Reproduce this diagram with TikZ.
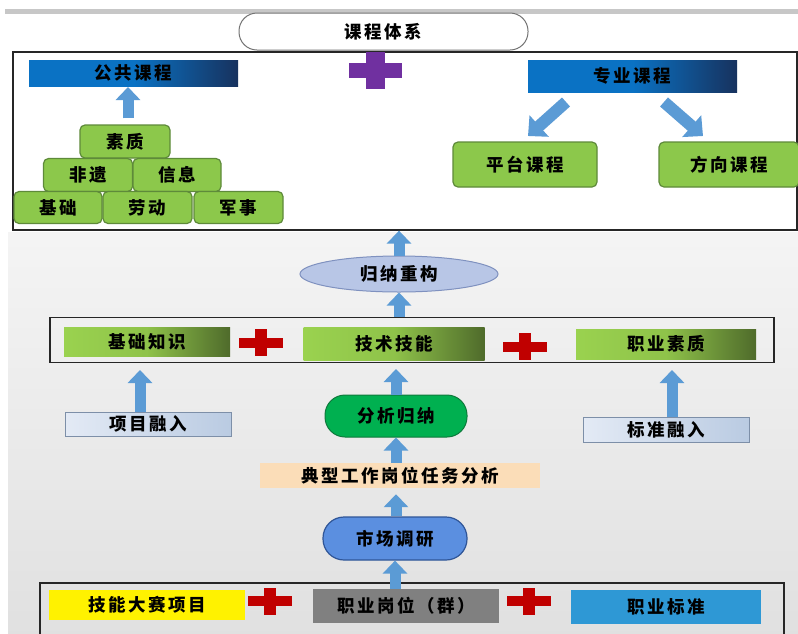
\documentclass[tikz,border=0pt]{standalone}
\usepackage{fontspec}
\setmainfont{Noto Sans CJK SC}[LetterSpace=14]
\usetikzlibrary{arrows.meta,shapes.geometric,calc}
\definecolor{arrowblue}{HTML}{5B9BD5}
\definecolor{greenfill}{HTML}{8CC84B}
\definecolor{greenedge}{HTML}{5E8A3A}
\definecolor{blueA}{HTML}{0A72C4}
\definecolor{navy}{HTML}{17325E}
\definecolor{lgreen}{HTML}{9AD24F}
\definecolor{dgreen}{HTML}{4F6B2B}
\definecolor{lavender}{HTML}{B8C6E6}
\definecolor{lavedge}{HTML}{7F91BF}
\definecolor{kgreen}{HTML}{00B050}
\definecolor{kgreenedge}{HTML}{0E7A3C}
\definecolor{mblue}{HTML}{5B8FE0}
\definecolor{mbluedge}{HTML}{2F5597}
\definecolor{peach}{HTML}{FBDDB8}
\definecolor{stdblue}{HTML}{2E98D5}
\definecolor{plusred}{HTML}{C00000}
\definecolor{pluspurple}{HTML}{7030A0}
\definecolor{paleblueL}{HTML}{E3EAF5}
\definecolor{paleblueR}{HTML}{BACBE2}
\definecolor{paleedge}{HTML}{7D8FA8}
\tikzset{
  lbl/.style={font=\fontsize{17.5}{19}\selectfont\bfseries, text=black, inner sep=0pt},
  brick/.style={lbl, draw=greenedge, fill=greenfill, line width=1.2pt, rounded corners=5pt},
  headbar/.style={lbl, left color=blueA, right color=navy, middle color=blueA},
  skillbar/.style={lbl, left color=lgreen, right color=dgreen, middle color=lgreen!85!dgreen},
  pale/.style={lbl, draw=paleedge, line width=1pt, left color=paleblueL, right color=paleblueR},
  uparrow/.style={draw=arrowblue, line width=11pt, -{Triangle[width=24pt,length=13pt]}},
  frame/.style={draw=black!85, line width=1.3pt},
  plussign/.pic={
    \fill[#1] (-22,-5) rectangle (22,5);
    \fill[#1] (-6,-13.5) rectangle (6,13.5);
  },
  bigplus/.pic={
    \fill[#1] (-26.5,-7.5) rectangle (26.5,7.5);
    \fill[#1] (-9.5,-18.5) rectangle (9.5,18.5);
  }
}
\begin{document}
\begin{tikzpicture}[x=1pt,y=-1pt]
\useasboundingbox (0,0) rectangle (798,633);
% background
\fill[white] (0,0) rectangle (798,633);
\shade[top color=white, bottom color=black!12] (8,14) rectangle (798,633);
\fill[black!22] (5,9) rectangle (798,14);
\fill[white] (8,14) rectangle (798,232);

% title
\node[lbl, draw=black!55, fill=white, line width=1pt, rounded corners=18pt, minimum width=289pt, minimum height=37pt] (title) at (383.5,31.5) {课程体系};

% top frame
\node[frame, minimum width=784pt, minimum height=178pt, inner sep=0pt] (topbox) at (405,141) {};
\node[headbar, minimum width=209pt, minimum height=26pt] (pub) at (133.5,73) {公共课程};
\node[headbar, minimum width=209pt, minimum height=32pt] (pro) at (632.5,76) {专业课程};
\pic at (375.5,70) {bigplus=pluspurple};

% pyramid
\node[brick, minimum width=90pt, minimum height=33pt] (suzhi) at (125,141.5) {素质};
\node[brick, minimum width=89pt, minimum height=33pt] (feiyi) at (88,175) {非遗};
\node[brick, minimum width=88pt, minimum height=33pt] (xinxi) at (177,175) {信息};
\node[brick, minimum width=88pt, minimum height=32pt] (jichu) at (58,207.5) {基础};
\node[brick, minimum width=89pt, minimum height=32pt] (laodong) at (147.5,207.5) {劳动};
\node[brick, minimum width=89pt, minimum height=32pt] (junshi) at (238.5,207.5) {军事};
\coordinate (pubArr) at (128,87);
\draw[uparrow] ($(suzhi.north -| pubArr)+(0,-6)$) -- (pubArr);

\node[brick, minimum width=144pt, minimum height=45pt] (pingtai) at (525,164.5) {平台课程};
\node[brick, minimum width=140pt, minimum height=45pt] (fangxiang) at (729,164.5) {方向课程};
\coordinate (dl1) at (566,102);
\coordinate (dl2) at (528,136);
\coordinate (dr1) at (664,102);
\coordinate (dr2) at (703,136);
\draw[uparrow, line width=12pt, -{Triangle[width=28pt,length=15pt]}] (dl1) -- (dl2);
\draw[uparrow, line width=12pt, -{Triangle[width=28pt,length=15pt]}] (dr1) -- (dr2);

% induction ellipse
\node[ellipse, lbl, draw=lavedge, fill=lavender, line width=1pt, minimum width=198pt, minimum height=36pt, inner sep=0pt] (guina) at (399,274) {归纳重构};
\draw[uparrow] (guina.north) -- (topbox.south -| guina);

% middle frame
\node[frame, minimum width=724pt, minimum height=45pt, inner sep=0pt] (midbox) at (412,340) {};
\node[skillbar, minimum width=166pt, minimum height=29pt] (zhishi) at (147,341.5) {基础知识};
\node[skillbar, minimum width=181pt, minimum height=33pt] (jineng) at (394,343.5) {技术技能};
\node[skillbar, minimum width=180pt, minimum height=30pt] (suyang) at (666,344) {职业素质};
\pic at (261,342.5) {plussign=plusred};
\pic at (525,346.5) {plussign=plusred};
\draw[uparrow] (midbox.north -| guina) -- (guina.south);

\node[pale, minimum width=166pt, minimum height=24pt] (xiangmu) at (148,424) {项目融入};
\node[pale, minimum width=166pt, minimum height=25pt] (biaozhun) at (666,429.5) {标准融入};
\coordinate (zhishiArr) at (140,370);
\coordinate (suyangArr) at (672,370);
\draw[uparrow] (xiangmu.north -| zhishiArr) -- (zhishiArr);
\draw[uparrow] (biaozhun.north -| suyangArr) -- (suyangArr);

% central chain
\node[lbl, fill=kgreen, draw=kgreenedge, line width=1pt, rounded corners=20pt, minimum width=142pt, minimum height=42pt] (fenxi) at (396,416) {分析归纳};
\coordinate (jinengArr) at (396,369);
\draw[uparrow] (fenxi.north) -- (jinengArr);

\node[lbl, fill=peach, minimum width=280pt, minimum height=25pt] (dianxing) at (400,475.5) {典型工作岗位任务分析};
\draw[uparrow] (dianxing.north -| fenxi) -- (fenxi.south);

\node[lbl, fill=mblue, draw=mbluedge, line width=1.2pt, rounded corners=21pt, minimum width=144pt, minimum height=43pt] (shichang) at (395,538.5) {市场调研};
\draw[uparrow] (shichang.north -| fenxi) -- ($(dianxing.south -| fenxi)+(0,6)$);

% bottom frame
\draw[frame] (40,640) -- (40,583) -- (784,583) -- (784,640);
\node[lbl, fill=yellow, minimum width=196pt, minimum height=30pt] (dasai) at (147,605) {技能大赛项目};
\node[lbl, fill=black!50, minimum width=186pt, minimum height=34pt] (gangwei) at (406,606) {职业岗位（群）};
\node[lbl, fill=stdblue, minimum width=190pt, minimum height=34pt] (zybz) at (666,607) {职业标准};
\pic at (270,601) {plussign=plusred};
\pic at (529,601) {plussign=plusred};
\draw[uparrow] (gangwei.north -| shichang) -- (shichang.south);
\end{tikzpicture}
\end{document}
